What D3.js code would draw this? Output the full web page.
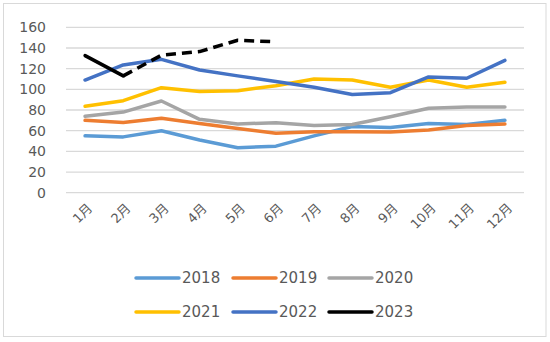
<!DOCTYPE html>
<html>
<head>
<meta charset="utf-8">
<script src="https://cdn.jsdelivr.net/npm/d3@7"></script>
<style>
  body { margin: 0; background: #fff; }
  text { font-family: "DejaVu Sans", "Noto Sans CJK SC", sans-serif; fill: #595959; }
</style>
</head>
<body>
<div id="chart"></div>
<script>
// monthly values per year
const months = ["1月", "2月", "3月", "4月", "5月", "6月", "7月", "8月", "9月", "10月", "11月", "12月"];
const years = ["2018", "2019", "2020", "2021", "2022", "2023"];
const v2018 = [55, 54, 60, 51, 43.5, 45, 55, 64, 63, 67, 66, 70];
const v2019 = [70, 68, 72, 67, 62, 57.5, 59, 59, 58.7, 60.7, 65, 66.5];
const v2020 = [74, 78, 88.7, 71, 66.5, 67.7, 65, 66, 73.5, 81.7, 83, 83];
const v2021 = [83.6, 89, 101.6, 98, 98.7, 103.5, 110, 109, 102, 109, 102, 106.8];
const v2022 = [109, 123.6, 129, 118.7, 113, 107.5, 102, 95, 96.8, 112, 110.7, 128];
const v2023 = [132.6, 113, 133, 136.5, 147.5, 146];
const yTicks = [0, 20, 40, 60, 80, 100, 120, 140, 160];
const colors = ["#5b9bd5", "#ed7d31", "#a5a5a5", "#ffc000", "#4472c4", "#000000"];

const series = [v2018, v2019, v2020, v2021, v2022, v2023].map((vals, i) => ({
  year: years[i],
  color: colors[i],
  values: vals.map((v, j) => ({ month: months[j], value: v }))
}));

const W = 550, H = 342;
const plot = { left: 66, right: 524, top: 27.3, bottom: 192.7 };

const svg = d3.select("#chart").append("svg")
  .attr("width", W)
  .attr("height", H);

// chart frame
svg.append("rect")
  .attr("x", 3.5).attr("y", 3.5)
  .attr("width", 542.5).attr("height", 333)
  .attr("fill", "#fff")
  .attr("stroke", "#d9d9d9")
  .attr("stroke-width", 1);

let x = d3.scalePoint()
  .domain(months)
  .range([plot.left, plot.right])
  .padding(0.5);

let y = d3.scaleLinear()
  .domain([0, 160])
  .range([plot.bottom, plot.top]);

// horizontal gridlines
svg.append("g")
  .selectAll("line")
  .data(yTicks)
  .join("line")
    .attr("x1", plot.left)
    .attr("x2", plot.right)
    .attr("y1", d => y(d))
    .attr("y2", d => y(d))
    .attr("stroke", "#d9d9d9")
    .attr("stroke-width", 1.3);

// y axis labels
svg.append("g")
  .selectAll("text")
  .data(yTicks)
  .join("text")
    .attr("x", 46)
    .attr("y", d => y(d))
    .attr("dy", "0.36em")
    .attr("text-anchor", "end")
    .attr("font-size", 14)
    .text(d => d);

// x axis labels, rotated
svg.append("g")
  .selectAll("text")
  .data(months)
  .join("text")
    .attr("transform", d => `translate(${x(d) + 5},${plot.bottom + 13}) rotate(-45)`)
    .attr("text-anchor", "end")
    .attr("dy", "0.35em")
    .attr("font-size", 13)
    .text(d => d);

let line = d3.line()
  .x(d => x(d.month))
  .y(d => y(d.value));

let lines = svg.append("g")
  .attr("fill", "none")
  .attr("stroke-width", 3.5)
  .attr("stroke-linejoin", "round")
  .attr("stroke-linecap", "round");

series.forEach(s => {
  if (s.year === "2023") {
    // first segment solid, rest dashed
    lines.append("path")
      .attr("d", line(s.values.slice(0, 2)))
      .attr("stroke", s.color);
    lines.append("path")
      .attr("d", line(s.values.slice(1)))
      .attr("stroke", s.color)
      .attr("stroke-linecap", "butt")
      .attr("stroke-dasharray", "10,6");
  } else {
    lines.append("path")
      .attr("d", line(s.values))
      .attr("stroke", s.color);
  }
});

// legend, two rows of three
const legendX = [135, 232, 328];
const legendY = [278, 312];

let legend = svg.append("g")
  .selectAll("g")
  .data(series)
  .join("g")
    .attr("transform", (d, i) => `translate(${legendX[i % 3]},${legendY[Math.floor(i / 3)]})`);

legend.append("line")
  .attr("x1", 1).attr("x2", 44)
  .attr("stroke", d => d.color)
  .attr("stroke-width", 3.5)
  .attr("stroke-linecap", "round");

legend.append("text")
  .attr("x", 47)
  .attr("dy", "0.36em")
  .attr("font-size", 15)
  .text(d => d.year);
</script>
</body>
</html>
